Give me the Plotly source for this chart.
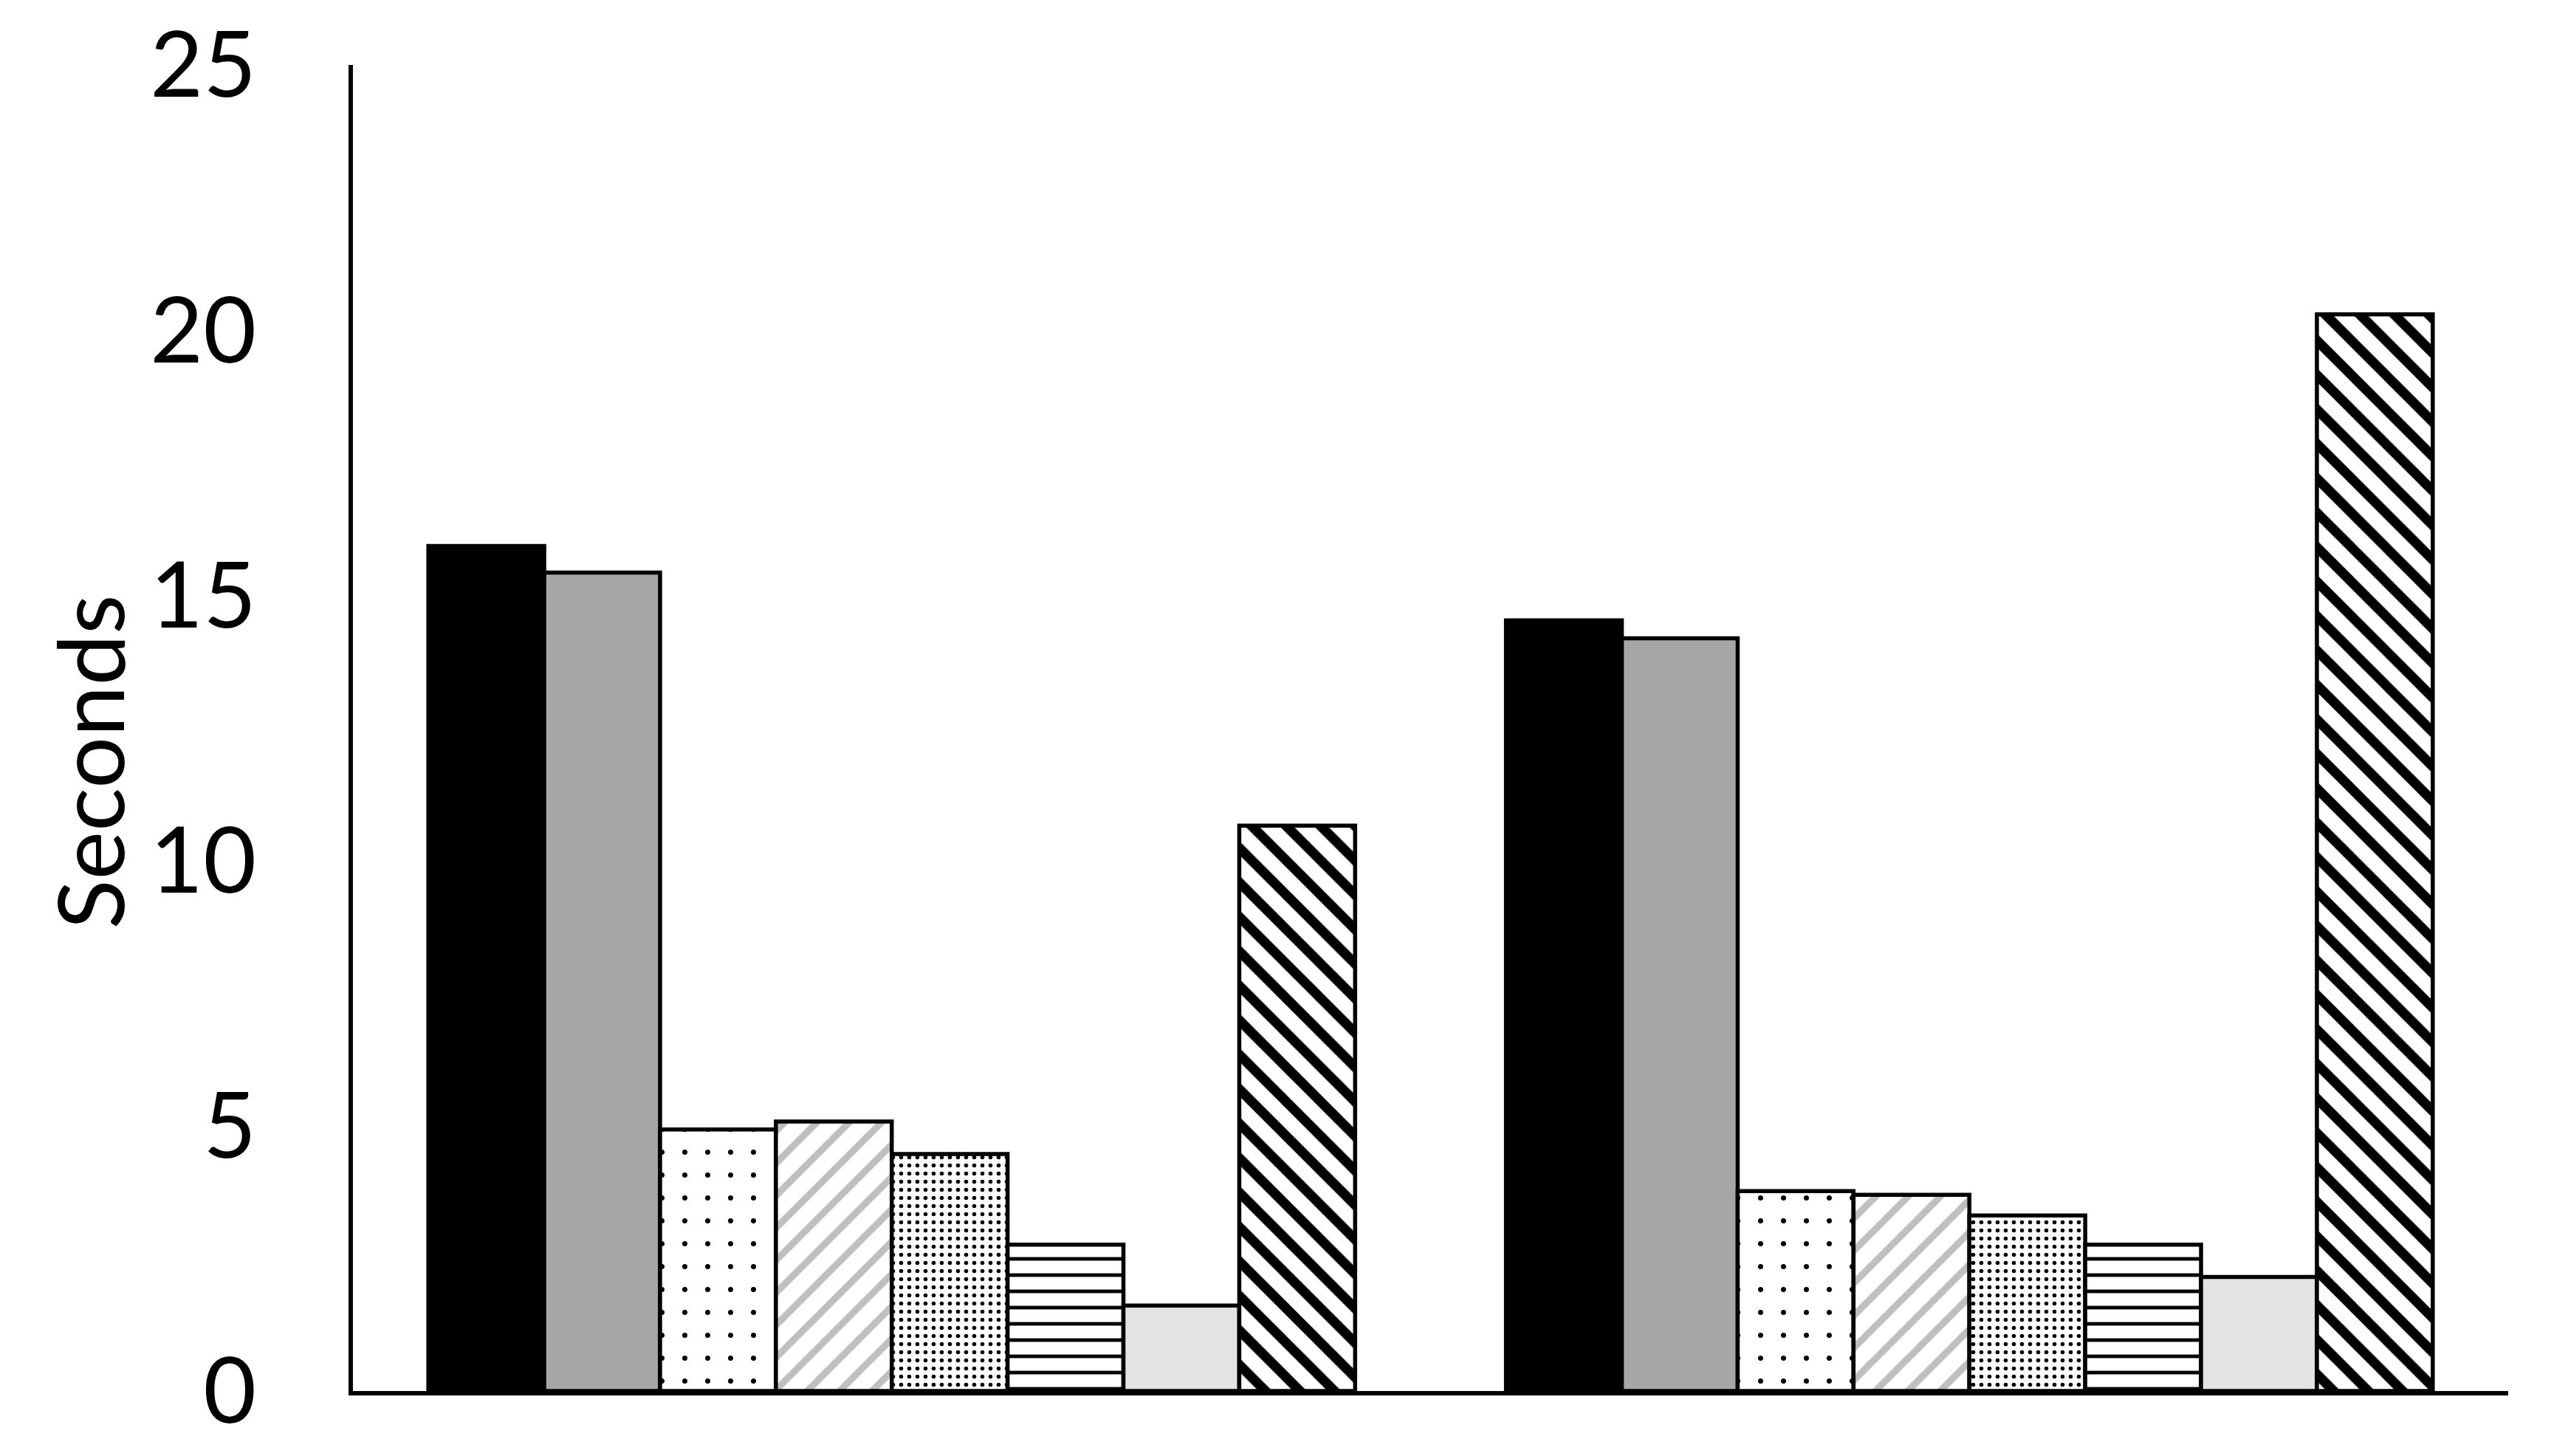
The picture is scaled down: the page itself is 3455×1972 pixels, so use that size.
import plotly.graph_objects as go

# two query groups, eight measured variants each (seconds)
categories = ["Group 1", "Group 2"]
series_names = ["S1", "S2", "S3", "S4", "S5", "S6", "S7", "S8"]
s1 = [15.93, 14.53]
s2 = [15.43, 14.19]
s3 = [4.93, 3.77]
s4 = [5.08, 3.70]
s5 = [4.47, 3.31]
s6 = [2.76, 2.76]
s7 = [1.61, 2.15]
s8 = [10.66, 20.30]
y_ticks = [0, 5, 10, 15, 20, 25]

FONT = "Lato"

# fill style for each series: (colour, pattern shape, pattern colour, size, solidity)
styles = [
    ("#000000", "", None, None, None),
    ("#a6a6a6", "", None, None, None),
    ("#ffffff", ".", "#000000", 31, 0.04),
    ("#ffffff", "/", "#bfbfbf", 31, 0.3),
    ("#ffffff", ".", "#000000", 11, 0.2),
    ("#ffffff", "-", "#000000", 22, 0.22),
    ("#e3e3e3", "", None, None, None),
    ("#ffffff", "\\", "#000000", 33, 0.4),
]

fig = go.Figure()
for name, vals, (col, shape, fg, size, sol) in zip(
    series_names, [s1, s2, s3, s4, s5, s6, s7, s8], styles
):
    marker = dict(color=col, line=dict(color="#000000", width=5.5))
    if shape:
        marker["pattern"] = dict(
            shape=shape, fgcolor=fg, bgcolor=col, size=size, solidity=sol,
            fillmode="replace",
        )
    fig.add_trace(go.Bar(x=categories, y=vals, name=name, marker=marker))

fig.update_layout(
    width=3455,
    height=1972,
    margin=dict(l=470, r=66, t=80, b=96, pad=0, autoexpand=False),
    paper_bgcolor="white",
    plot_bgcolor="white",
    barmode="group",
    bargap=0.14,
    bargroupgap=0,
    showlegend=False,
    font=dict(family=FONT, color="#000000", size=124),
)
fig.update_xaxes(
    showticklabels=False,
    ticks="",
    showgrid=False,
    showline=True,
    linecolor="#000000",
    linewidth=6,
    range=[-0.5, 1.5],
    automargin=False,
)
fig.update_yaxes(
    range=[0, 25],
    tickvals=y_ticks,
    ticks="",
    showgrid=False,
    zeroline=False,
    showline=True,
    linecolor="#000000",
    linewidth=6,
    ticklabelstandoff=100,
    ticklabeloverflow="allow",
    automargin=False,
    tickfont=dict(family=FONT, size=124, color="#000000"),
)
fig.add_annotation(
    text="Seconds",
    textangle=-90,
    xref="paper", yref="paper",
    x=-0.1225, y=0.4744,
    xanchor="center", yanchor="middle",
    showarrow=False,
    font=dict(family=FONT, size=124, color="#000000"),
)

fig.write_html("out.html")
